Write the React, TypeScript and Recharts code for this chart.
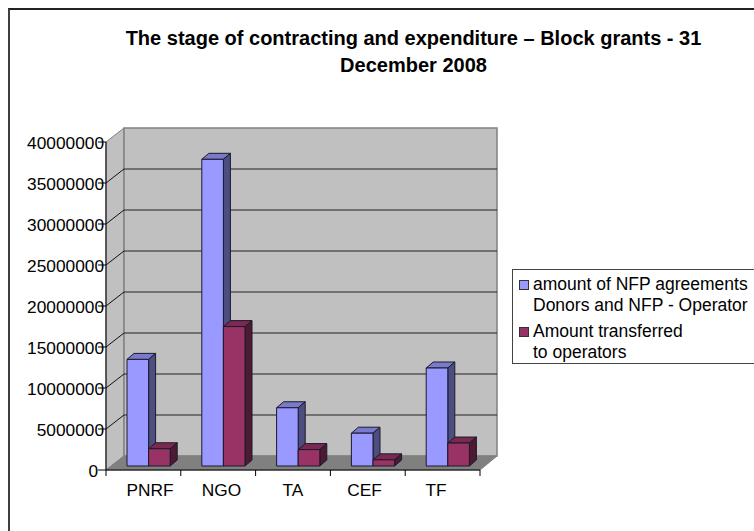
import { BarChart, Bar, XAxis, YAxis, CartesianGrid, Legend } from 'recharts';

const categories = ['PNRF', 'NGO', 'TA', 'CEF', 'TF'];
const agreements = [13000000, 37400000, 7100000, 4000000, 11950000];
const transferred = [2100000, 17000000, 2000000, 750000, 2800000];
const yTicks = [0, 5000000, 10000000, 15000000, 20000000, 25000000, 30000000, 35000000, 40000000];
const titleLines = ['The stage of contracting and expenditure – Block grants - 31', 'December 2008'];
const agreementsName = 'amount of NFP agreements\nDonors and NFP - Operator';
const transferredName = 'Amount transferred\nto operators';

const data = categories.map((name, i) => ({ name, agreements: agreements[i], transferred: transferred[i] }));

// размеры области построения и глубина "3D"
const WIDTH = 754;
const HEIGHT = 531;
const LEFT = 106;
const RIGHT = 480;
const TOP = 142;
const BOTTOM = 470;
const DEPTH_X = 18;
const DEPTH_Y = 14;
const FONT = '"Liberation Sans", Arial, sans-serif';

// стенки и пол рисуются под сеткой и столбиками
function Walls() {
  return (
    <g>
      <polygon
        points={`${LEFT},${TOP} ${LEFT + DEPTH_X},${TOP - DEPTH_Y} ${LEFT + DEPTH_X},${BOTTOM - DEPTH_Y} ${LEFT},${BOTTOM}`}
        fill="#c0c0c0"
        stroke="#808080"
      />
      <rect
        x={LEFT + DEPTH_X}
        y={TOP - DEPTH_Y}
        width={RIGHT - LEFT - 1}
        height={BOTTOM - TOP}
        fill="#c0c0c0"
        stroke="#808080"
        strokeWidth={1.5}
      />
      <polygon
        points={`${LEFT},${BOTTOM} ${LEFT + DEPTH_X},${BOTTOM - DEPTH_Y} ${RIGHT + DEPTH_X - 1},${BOTTOM - DEPTH_Y} ${RIGHT},${BOTTOM}`}
        fill="#808080"
        stroke="#808080"
      />
    </g>
  );
}

function Title() {
  return (
    <g>
      {titleLines.map((line, i) => (
        <text
          key={line}
          x={413.5}
          y={45 + i * 27}
          textAnchor="middle"
          fontFamily={FONT}
          fontSize={20}
          fontWeight="bold"
          fill="#000"
        >
          {line}
        </text>
      ))}
    </g>
  );
}

// линия сетки идёт по боковой стенке и затем по задней
function GridLine(props: any) {
  const { x1, x2, y1 } = props;
  if (y1 <= TOP + 1 || y1 >= BOTTOM - 1) return <g />;
  return (
    <g fill="none">
      <line x1={x1} y1={y1} x2={x1 + DEPTH_X} y2={y1 - DEPTH_Y} stroke="#111" />
      <line x1={x1 + DEPTH_X} y1={y1 - DEPTH_Y} x2={x2 + DEPTH_X - 1} y2={y1 - DEPTH_Y} stroke="#222" />
    </g>
  );
}

function Bar3D(props: any) {
  const { x, y, width, height, fill, side, top } = props;
  const fx = x + 5;
  const fy = y - 4;
  const dx = 7;
  const dy = 6;
  if (!height) return <g />;
  return (
    <g stroke="#1a1a2a" strokeWidth={1} strokeLinejoin="round">
      <polygon points={`${fx},${fy} ${fx + dx},${fy - dy} ${fx + width + dx},${fy - dy} ${fx + width},${fy}`} fill={top} />
      <polygon
        points={`${fx + width},${fy} ${fx + width + dx},${fy - dy} ${fx + width + dx},${fy + height - dy} ${fx + width},${fy + height}`}
        fill={side}
      />
      <rect x={fx} y={fy} width={width} height={height} fill={fill} />
    </g>
  );
}

function YTick(props: any) {
  const { x, y, payload } = props;
  const right = payload.value === 0 ? 98 : 104;
  return (
    <g>
      <line x1={x} y1={y} x2={LEFT} y2={y} stroke="#000" />
      <text x={right} y={y + 7} textAnchor="end" fontFamily={FONT} fontSize={17.3} fill="#000">
        {payload.value}
      </text>
    </g>
  );
}

// риски стоят на границах категорий, а не по центру
function XTick(props: any) {
  const { x, y, payload, index } = props;
  const half = (RIGHT - LEFT) / categories.length / 2;
  return (
    <g>
      <line x1={x - half} y1={BOTTOM} x2={x - half} y2={BOTTOM + 6} stroke="#000" />
      {index === categories.length - 1 && (
        <line x1={x + half} y1={BOTTOM} x2={x + half} y2={BOTTOM + 6} stroke="#000" />
      )}
      <text x={x + 6.6 - 3.3 * index} y={y + 18} textAnchor="middle" fontFamily={FONT} fontSize={17.3} fill="#000">
        {payload.value}
      </text>
    </g>
  );
}

function LegendBox(props: any) {
  const { payload } = props;
  return (
    <div
      style={{
        boxSizing: 'border-box',
        width: 242,
        height: 95,
        background: '#fff',
        borderLeft: '1px solid #444',
        borderTop: '1px solid #444',
        borderBottom: '1px solid #444',
        fontFamily: FONT,
        fontSize: 17.5,
        lineHeight: '21px',
        color: '#000',
        padding: '4px 0 0 6px',
      }}
    >
      {(payload || []).map((entry: any) => (
        <div key={entry.value} style={{ display: 'flex', marginBottom: 5 }}>
          <span
            style={{
              flex: 'none',
              boxSizing: 'border-box',
              width: 10,
              height: 10,
              marginTop: 6,
              marginRight: 4,
              background: entry.color,
              border: '1px solid #333',
            }}
          />
          <span style={{ whiteSpace: 'pre-line' }}>{entry.value}</span>
        </div>
      ))}
    </div>
  );
}

export default function App() {
  return (
    <div style={{ position: 'absolute', left: 0, top: 0, width: WIDTH, height: HEIGHT, background: '#fff' }}>
      <div
        style={{
          position: 'absolute',
          left: 8,
          top: 8,
          right: 0,
          bottom: 0,
          borderLeft: '2px solid #404040',
          borderTop: '2px solid #222',
        }}
      />
      <div style={{ position: 'absolute', left: 0, top: 0 }}>
        <BarChart
          width={WIDTH}
          height={HEIGHT}
          data={data}
          margin={{ top: TOP, right: WIDTH - RIGHT, bottom: 0, left: 0 }}
          barSize={21.6}
          barGap={0}
        >
          <Walls />
          <Title />
          <CartesianGrid zIndex={100} vertical={false} horizontal={(p: any) => <GridLine {...p} />} />
          <XAxis
            dataKey="name"
            height={HEIGHT - BOTTOM}
            axisLine={{ stroke: '#000' }}
            tickLine={false}
            tick={(p: any) => <XTick {...p} />}
            interval={0}
          />
          <YAxis
            width={LEFT}
            domain={[0, 40000000]}
            ticks={yTicks}
            interval={0}
            axisLine={{ stroke: '#000' }}
            tickLine={false}
            tick={(p: any) => <YTick {...p} />}
          />
          <Legend
            layout="vertical"
            align="center"
            verticalAlign="middle"
            itemSorter={null}
            wrapperStyle={{ left: 512, top: 269, width: 242 }}
            content={(p: any) => <LegendBox {...p} />}
          />
          <Bar
            dataKey="agreements"
            name={agreementsName}
            fill="#9999ff"
            isAnimationActive={false}
            shape={(p: any) => <Bar3D {...p} fill="#9999ff" side="#4d4d80" top="#7a7acc" />}
          />
          <Bar
            dataKey="transferred"
            name={transferredName}
            fill="#993366"
            isAnimationActive={false}
            shape={(p: any) => <Bar3D {...p} fill="#993366" side="#4d1a33" top="#7a2952" />}
          />
        </BarChart>
      </div>
    </div>
  );
}
